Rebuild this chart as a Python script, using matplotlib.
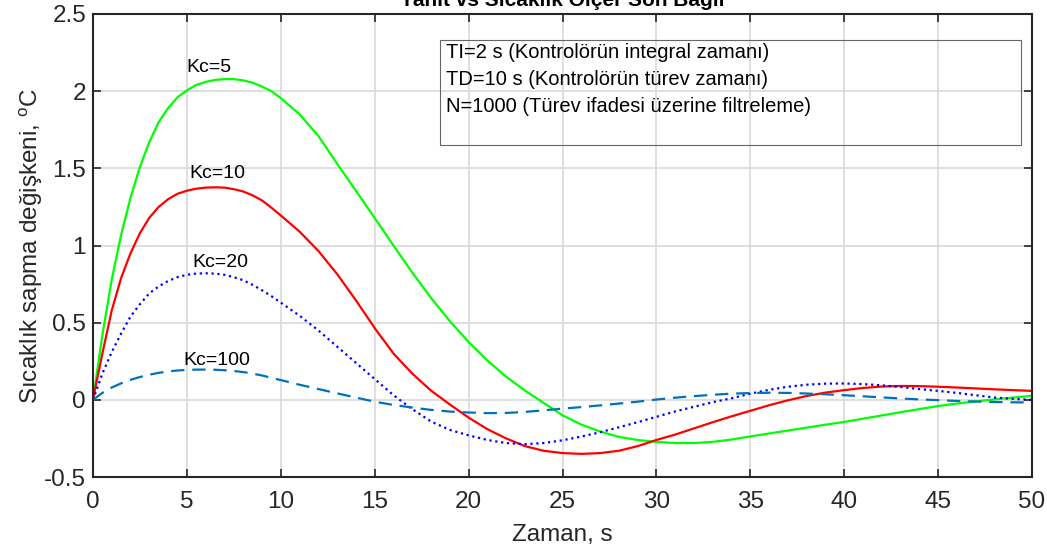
import numpy as np
import matplotlib
matplotlib.use("Agg")
import matplotlib.pyplot as plt
from matplotlib.patches import Rectangle

plt.rcParams['font.family'] = ['Liberation Sans', 'DejaVu Sans']
plt.rcParams['mathtext.fontset'] = 'custom'
plt.rcParams['mathtext.rm'] = 'Liberation Sans'

# time axis (s): half second steps up to 10 s, then 1 s steps
t = [i * 0.5 for i in range(0, 21)] + list(range(11, 51))

# Kc=5
y_kc5 = [0.0, 0.42, 0.78, 1.07, 1.31, 1.51, 1.67, 1.80, 1.89, 1.96,
         2.005, 2.04, 2.06, 2.073, 2.078, 2.078, 2.07, 2.055, 2.03, 2.0,
         1.955,
         1.85, 1.71, 1.53, 1.355, 1.178, 1.0, 0.825, 0.66, 0.51, 0.375,
         0.255, 0.15, 0.06, -0.02, -0.10, -0.16, -0.205, -0.24, -0.26, -0.272,
         -0.28, -0.28, -0.272, -0.257, -0.237, -0.218, -0.199, -0.18, -0.161, -0.143,
         -0.122, -0.101, -0.08, -0.06, -0.04, -0.024, -0.01, 0.003, 0.015, 0.026]
# Kc=10
y_kc10 = [0.0, 0.30, 0.58, 0.79, 0.95, 1.08, 1.18, 1.25, 1.30, 1.335,
          1.355, 1.368, 1.375, 1.377, 1.375, 1.365, 1.35, 1.325, 1.292, 1.245,
          1.195,
          1.09, 0.965, 0.815, 0.645, 0.465, 0.30, 0.17, 0.06, -0.03, -0.115,
          -0.19, -0.25, -0.30, -0.33, -0.345, -0.35, -0.345, -0.33, -0.30, -0.26,
          -0.225, -0.185, -0.145, -0.107, -0.071, -0.035, -0.003, 0.025, 0.047, 0.063,
          0.077, 0.086, 0.09, 0.089, 0.085, 0.08, 0.074, 0.068, 0.063, 0.058]
# Kc=20
y_kc20 = [0.0, 0.17, 0.31, 0.43, 0.54, 0.62, 0.69, 0.735, 0.77, 0.795,
          0.81, 0.818, 0.82, 0.818, 0.81, 0.795, 0.775, 0.745, 0.71, 0.672,
          0.63,
          0.545, 0.45, 0.345, 0.24, 0.135, 0.03, -0.06, -0.14, -0.195, -0.23,
          -0.26, -0.28, -0.287, -0.28, -0.262, -0.238, -0.21, -0.178, -0.145, -0.11,
          -0.075, -0.045, -0.015, 0.01, 0.04, 0.065, 0.085, 0.098, 0.105, 0.106,
          0.102, 0.094, 0.083, 0.07, 0.058, 0.045, 0.03, 0.015, 0.006, 0.0]
# Kc=100
y_kc100 = [0.0, 0.045, 0.08, 0.107, 0.13, 0.148, 0.163, 0.175, 0.184, 0.19,
           0.194, 0.196, 0.196, 0.195, 0.192, 0.187, 0.18, 0.17, 0.158, 0.143,
           0.128,
           0.098, 0.07, 0.042, 0.015, -0.012, -0.033, -0.05, -0.065, -0.076, -0.082,
           -0.086, -0.085, -0.078, -0.068, -0.057, -0.047, -0.036, -0.024, -0.012, 0.002,
           0.014, 0.024, 0.033, 0.04, 0.044, 0.046, 0.045, 0.041, 0.036, 0.03,
           0.023, 0.016, 0.009, 0.003, -0.002, -0.007, -0.011, -0.014, -0.016, -0.017]

kc_labels = ['Kc=5', 'Kc=10', 'Kc=20', 'Kc=100']
label_pos = [(6.2, 2.126), (6.6, 1.44), (6.76, 0.86), (6.6, 0.227)]

info_lines = ['TI=2 s (Kontrolörün integral zamanı)',
              'TD=10 s (Kontrolörün türev zamanı)',
              'N=1000 (Türev ifadesi üzerine filtreleme)']

xticks = [0, 5, 10, 15, 20, 25, 30, 35, 40, 45, 50]
yticks = [-0.5, 0, 0.5, 1, 1.5, 2, 2.5]
ytick_labels = ['-0.5', '0', '0.5', '1', '1.5', '2', '2.5']

fig = plt.figure(figsize=(10.47, 5.53), dpi=100)
ax = fig.add_axes([0.0888, 0.1374, 0.8969, 0.8373])

ax.plot(t, y_kc5, color='#00FF00', lw=1.6)
ax.plot(t, y_kc10, color='#FF0000', lw=1.6)
ax.plot(t, y_kc20, color='#0000FF', lw=1.6, ls=':')
ax.plot(t, y_kc100, color='#0072BD', lw=1.6, ls=(0, (6, 3.5)))

for lab, (x, y) in zip(kc_labels, label_pos):
    ax.text(x, y, lab, fontsize=14, ha='center', va='baseline')

# info box
ax.add_patch(Rectangle((18.5, 1.65), 30.9, 0.68, fill=False, ec='#666666', lw=0.8))
for i, line in enumerate(info_lines):
    ax.text(18.8, 2.25 - i * 0.175, line, fontsize=14.5, va='center', ha='left')

ax.set_xlim(0, 50)
ax.set_ylim(-0.5, 2.5)
ax.set_xticks(xticks)
ax.set_yticks(yticks)
ax.set_yticklabels(ytick_labels)
ax.grid(True, color='#d9d9d9', lw=1.2)
ax.set_axisbelow(True)
ax.tick_params(direction='in', top=True, right=True, labelsize=17.5,
               colors='#262626', length=6, width=1.2)
ax.tick_params(axis='x', pad=10)
ax.tick_params(axis='y', pad=5)
for s in ax.spines.values():
    s.set_linewidth(1.5)
    s.set_color('#262626')

ax.set_xlabel('Zaman, s', fontsize=17.5, color='#262626', labelpad=8)
ax.set_ylabel(r'Sıcaklık sapma değişkeni, $^{\mathrm{o}}$C', fontsize=17.5,
              color='#262626', labelpad=-1)

fig.text(562 / 1047, 1 - 6 / 553, 'Yanıt vs Sıcaklık Ölçer Son Bağlı',
         ha='center', va='baseline', fontsize=15, weight='bold')

fig.savefig('out.png', dpi=100)
